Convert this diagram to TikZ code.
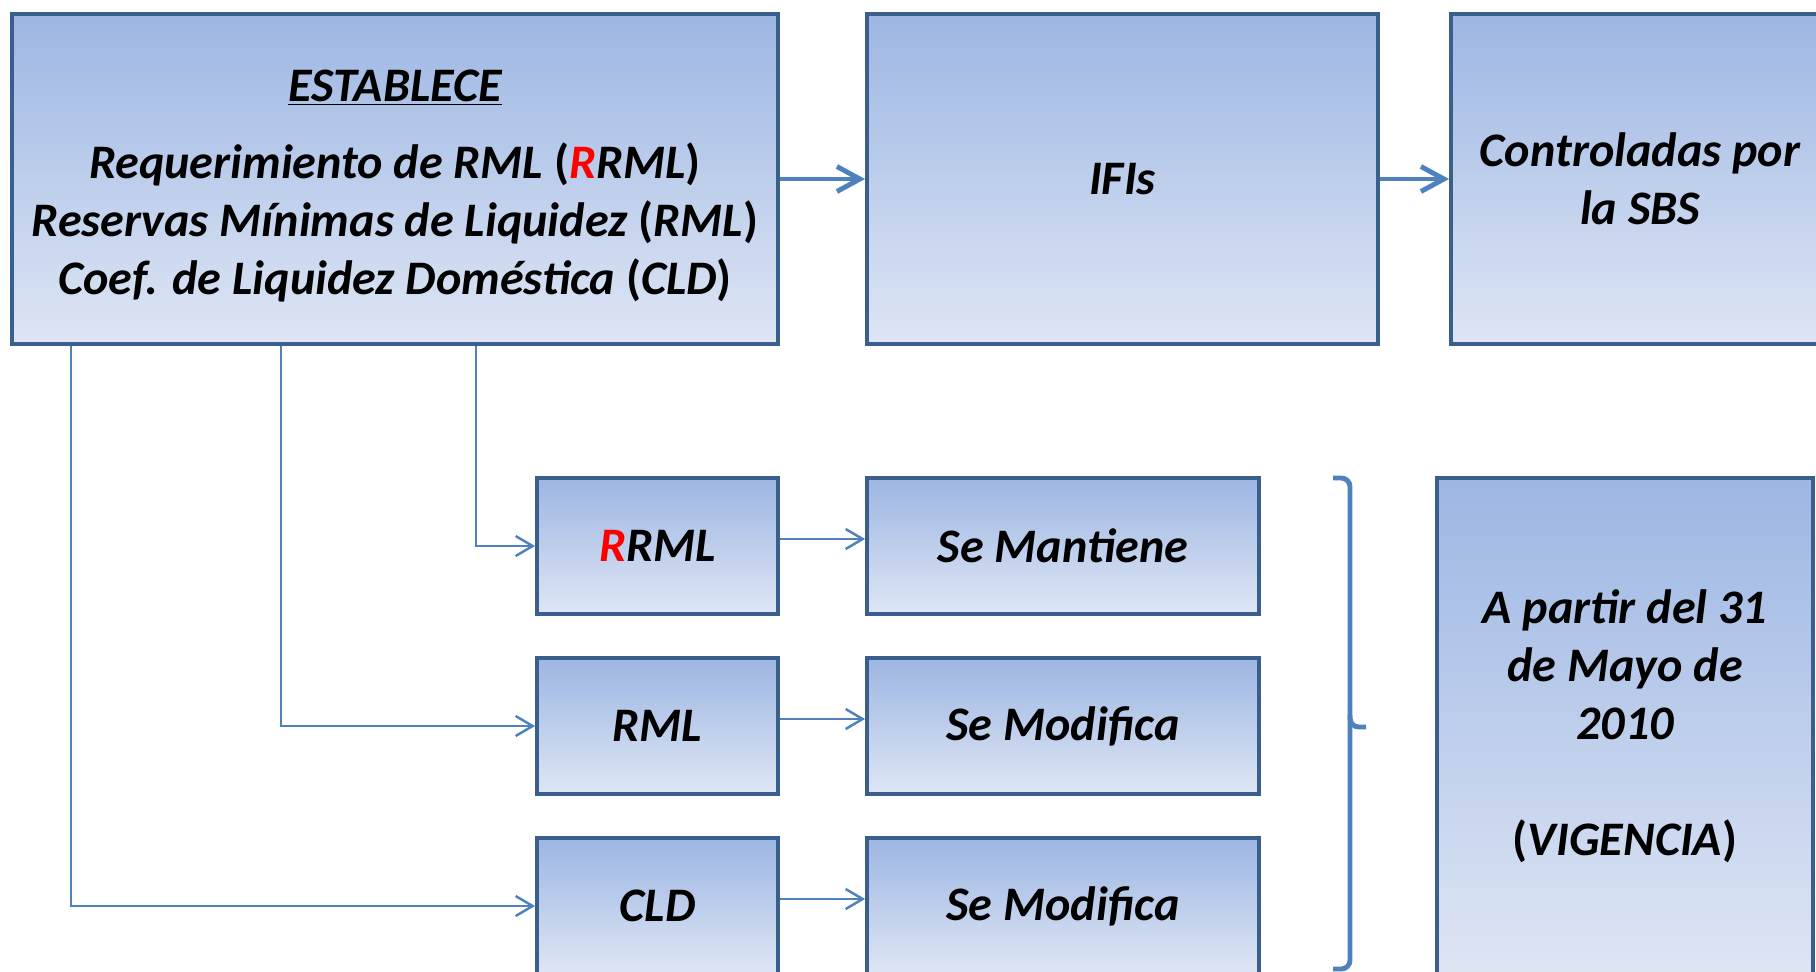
\documentclass[tikz,border=0pt]{standalone}
\usepackage{fontspec}
\setmainfont{Carlito}
\usetikzlibrary{arrows.meta}
\definecolor{boxline}{RGB}{58,95,142}
\definecolor{boxtop}{RGB}{157,182,227}
\definecolor{boxbot}{RGB}{222,230,244}
\definecolor{linkblue}{RGB}{79,129,189}
\tikzset{
  bluebox/.style={draw=boxline, line width=2.2pt, top color=boxtop, bottom color=boxbot,
    align=center, inner sep=0pt, font=\bfseries\itshape\fontsize{27.4}{33}\selectfont},
  thicklink/.style={draw=linkblue, line width=2.8pt, -{Straight Barb[length=0.46cm,width=0.5cm]}},
  thinlink/.style={draw=linkblue, line width=1.4pt, -{Straight Barb[length=0.34cm,width=0.4cm]}}
}
\begin{document}
\begin{tikzpicture}
  \useasboundingbox (0,0) rectangle (36.32,-19.42);
  \clip (0,0) rectangle (36.32,-19.42);
  % upper row
  \node[bluebox, minimum width=15.32cm, minimum height=6.6cm] (main) at (7.9,-3.58)
    {\rule{0pt}{26pt}\underline{ESTABLECE}\\[11pt]
     Requerimiento de RML \textup{(}\textcolor{red}{R}RML\textup{)}\\
     Reservas Mínimas de Liquidez \textup{(}RML\textup{)}\\
     Coef. de Liquidez Doméstica \textup{(}CLD\textup{)}};
  \node[bluebox, minimum width=10.22cm, minimum height=6.6cm] (ifis) at (22.45,-3.58) {IFIs};
  \node[bluebox, minimum width=7.56cm, minimum height=6.6cm] (sbs) at (32.8,-3.58) {Controladas por\\la SBS};
  \draw[thicklink] (main) -- (ifis);
  \draw[thicklink] (ifis) -- (sbs);
  % lower rows
  \node[bluebox, minimum width=4.82cm, minimum height=2.72cm] (rrml) at (13.15,-10.92) {\textcolor{red}{R}RML};
  \node[bluebox, minimum width=4.82cm, minimum height=2.72cm] (rml) at (13.15,-14.52) {RML};
  \node[bluebox, minimum width=4.82cm, minimum height=2.72cm] (cld) at (13.15,-18.12) {CLD};
  \node[bluebox, minimum width=7.84cm, minimum height=2.72cm] (mant) at (21.26,-10.92) {Se Mantiene};
  \node[bluebox, minimum width=7.84cm, minimum height=2.72cm] (modA) at (21.26,-14.52) {Se Modifica};
  \node[bluebox, minimum width=7.84cm, minimum height=2.72cm] (modB) at (21.26,-18.12) {Se Modifica};
  \node[bluebox, minimum width=7.52cm, minimum height=9.92cm] (vig) at (32.5,-14.52)
    {A partir del 31\\de Mayo de\\2010\\[33pt]\textup{(}VIGENCIA\textup{)}};
  \draw[thinlink] ([xshift=9.32cm]main.south west) |- (rrml);
  \draw[thinlink] ([xshift=5.42cm]main.south west) |- (rml);
  \draw[thinlink] ([xshift=1.22cm]main.south west) |- (cld);
  \draw[thinlink] ([yshift=0.14cm]rrml.east) -- ([yshift=0.14cm]mant.west);
  \draw[thinlink] ([yshift=0.14cm]rml.east) -- ([yshift=0.14cm]modA.west);
  \draw[thinlink] ([yshift=0.14cm]cld.east) -- ([yshift=0.14cm]modB.west);
  % brace
  \draw[linkblue, line width=2.8pt, rounded corners=5pt]
    (26.66,-9.56) -| (27.0,-14.54) -- (27.32,-14.54);
  \draw[linkblue, line width=2.8pt, rounded corners=5pt]
    (27.0,-14.3) |- (26.66,-19.38);
\end{tikzpicture}
\end{document}
